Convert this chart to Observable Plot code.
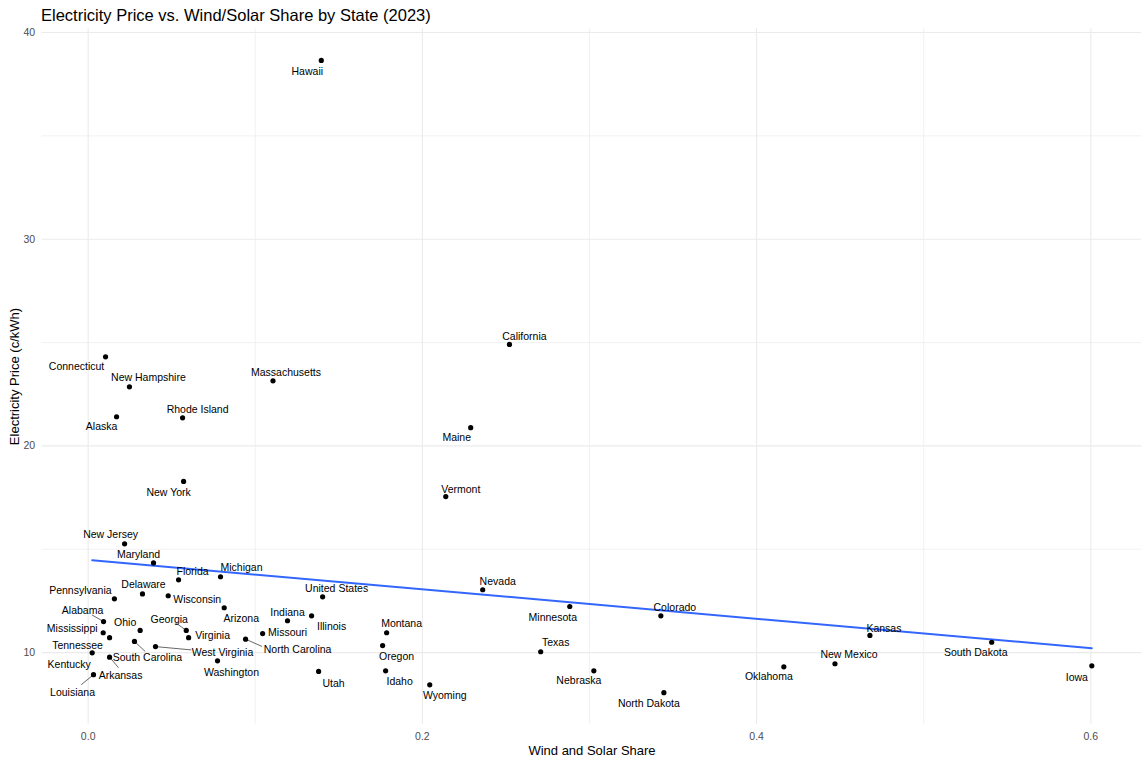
<!DOCTYPE html>
<html><head><meta charset="utf-8">
<script src="https://cdn.jsdelivr.net/npm/d3@7"></script>
<script src="https://cdn.jsdelivr.net/npm/@observablehq/plot@0.6"></script>
<style>
body{margin:0;background:#fff;font-family:"Liberation Sans",Arial,sans-serif;}
#title{height:24px;box-sizing:border-box;padding:6.7px 0 0 41px;font-size:16.5px;line-height:16.5px;color:#000;white-space:nowrap;}
#chart svg{display:block;}
</style></head><body>
<div id="title"></div>
<div id="chart"></div>
<script>
const titleText = "Electricity Price vs. Wind/Solar Share by State (2023)";
const xLabel = "Wind and Solar Share";
const yLabel = "Electricity Price (c/kWh)";

const states = ["Hawaii","California","Connecticut","Massachusetts","New Hampshire","Alaska","Rhode Island","Maine","New York","Vermont",
"New Jersey","Maryland","Michigan","Florida","Nevada","Delaware","Wisconsin","United States","Pennsylvania","Minnesota",
"Arizona","Illinois","Colorado","Indiana","Alabama","Ohio","Georgia","Mississippi","Montana","Missouri",
"Kansas","Virginia","Tennessee","North Carolina","South Carolina","South Dakota","Oregon","West Virginia","Texas","Kentucky",
"Arkansas","Washington","New Mexico","Iowa","Oklahoma","Nebraska","Idaho","Utah","Louisiana","Wyoming","North Dakota"];
const windSolarShare = [0.1395,0.2521,0.0104,0.1106,0.0247,0.0170,0.0565,0.2289,0.0571,0.2140,
0.0218,0.0391,0.0792,0.0541,0.2361,0.0325,0.0479,0.1403,0.0157,0.2882,
0.0814,0.1337,0.3427,0.1193,0.0092,0.0311,0.0587,0.0090,0.1786,0.1044,
0.4678,0.0601,0.0128,0.0942,0.0277,0.5407,0.1762,0.0403,0.2708,0.0024,
0.0128,0.0774,0.4469,0.6006,0.4163,0.3026,0.1780,0.1379,0.0032,0.2044,0.3445];
const price = [38.65,24.91,24.31,23.15,22.86,21.41,21.36,20.88,18.28,17.55,
15.26,14.34,13.67,13.52,13.04,12.84,12.75,12.70,12.60,12.23,
12.17,11.78,11.78,11.54,11.50,11.07,11.07,10.96,10.96,10.92,
10.83,10.72,10.72,10.65,10.54,10.50,10.34,10.29,10.04,9.99,
9.78,9.60,9.46,9.36,9.31,9.12,9.12,9.09,8.93,8.44,8.06];
const xTicks = [0, 0.2, 0.4, 0.6];
const xMinorTicks = [0.1, 0.3, 0.5];
const yTicks = [10, 20, 30, 40];
const yMinorTicks = [15, 25, 35];

document.getElementById("title").textContent = titleText;

// layout (pixels)
const width = 1148, height = 741, mL = 41.7, mR = 6.7, mT = 4.3, mB = 41.2;
const expand = e => { const s = (e[1] - e[0]) * 0.05; return [e[0] - s, e[1] + s]; };
const xDomain = expand(d3.extent(windSolarShare));
const yDomain = expand(d3.extent(price));
const kx = (width - mL - mR) / (xDomain[1] - xDomain[0]);
const ky = (height - mT - mB) / (yDomain[1] - yDomain[0]);

// label placement (pixel offsets from the point, repel-style)
const labelOffset = {
  "Hawaii":[-14,11],"California":[15,-8],"Connecticut":[-29,10],"Massachusetts":[13,-8],"New Hampshire":[19,-9],
  "Alaska":[-15,10],"Rhode Island":[15,-8],"Maine":[-14,10],"New York":[-15,11],"Vermont":[15,-7],
  "New Jersey":[-14,-9],"Maryland":[-15,-8],"Michigan":[21,-9],"Florida":[14,-8],"Nevada":[15,-8],
  "Delaware":[1,-9],"Wisconsin":[29,4],"United States":[14,-8],"Pennsylvania":[-34,-8],"Minnesota":[-17,11],
  "Arizona":[17,11],"Illinois":[20,11],"Colorado":[14,-8],"Indiana":[0,-8],"Alabama":[-21,-11],
  "Ohio":[-15,-8],"Georgia":[-17,-11],"Mississippi":[-31,-4],"Montana":[15,-9],"Missouri":[25,-1],
  "Kansas":[14,-7],"Virginia":[24,-2],"Tennessee":[-32,8],"North Carolina":[52,10],"South Carolina":[13,16],
  "South Dakota":[-16,10],"Oregon":[14,11],"West Virginia":[67,6],"Texas":[15,-9],"Kentucky":[-23,12],
  "Arkansas":[11,18],"Washington":[14,12],"New Mexico":[14,-9],"Iowa":[-15,12],"Oklahoma":[-15,10],
  "Nebraska":[-15,10],"Idaho":[14,11],"Utah":[15,12],"Louisiana":[-21,18],"Wyoming":[15,11],"North Dakota":[-15,11]
};
const connectorEnd = {
  "Alabama":[-11.6,-6.7],"Georgia":[-10,-7.3],"South Carolina":[10.7,10],"West Virginia":[35.7,3.3],
  "North Carolina":[16.4,7.3],"Arkansas":[9,10.6],"Louisiana":[-12.3,10]
};

const data = states.map((s, i) => ({
  state: s, x: windSolarShare[i], y: price[i],
  lx: windSolarShare[i] + labelOffset[s][0] / kx,
  ly: price[i] - labelOffset[s][1] / ky
}));
const links = data.filter(d => connectorEnd[d.state]).map(d => ({
  x1: d.x, y1: d.y,
  x2: d.x + connectorEnd[d.state][0] / kx,
  y2: d.y - connectorEnd[d.state][1] / ky
}));

const chart = Plot.plot({
  width, height,
  marginLeft: mL, marginRight: mR, marginTop: mT, marginBottom: mB,
  x: {domain: xDomain},
  y: {domain: yDomain},
  style: {fontFamily: '"Liberation Sans", Arial, sans-serif', background: "#fff", color: "#000"},
  marks: [
    Plot.gridX(xMinorTicks, {stroke: "#ededed", strokeOpacity: 1, strokeWidth: 0.8}),
    Plot.gridY(yMinorTicks, {stroke: "#ededed", strokeOpacity: 1, strokeWidth: 0.8}),
    Plot.gridX(xTicks, {stroke: "#ebebeb", strokeOpacity: 1, strokeWidth: 1.1}),
    Plot.gridY(yTicks, {stroke: "#ebebeb", strokeOpacity: 1, strokeWidth: 1.1}),
    Plot.axisX(xTicks, {tickSize: 0, tickPadding: 8.5, tickFormat: d3.format(".1f"), fontSize: 10.5, fill: "#4d4d4d", label: null}),
    Plot.axisY(yTicks, {tickSize: 0, tickPadding: 7, fontSize: 10.5, fill: "#4d4d4d", label: null}),
    Plot.linearRegressionY(data, {x: "x", y: "y", ci: 0, stroke: "#3366FF", strokeWidth: 2}),
    Plot.link(links, {x1: "x1", y1: "y1", x2: "x2", y2: "y2", stroke: "#000", strokeWidth: 0.6}),
    Plot.dot(data, {x: "x", y: "y", r: 2.6, fill: "#000"}),
    Plot.text(data, {x: "lx", y: "ly", text: "state", fontSize: 10.5, fill: "#000"}),
    Plot.text([xLabel], {frameAnchor: "bottom", textAnchor: "middle", lineAnchor: "middle", dy: 27, fontSize: 13, text: d => d, fill: "#000"}),
    Plot.text([yLabel], {frameAnchor: "left", textAnchor: "middle", lineAnchor: "middle", dx: -27.7, rotate: -90, fontSize: 13, text: d => d, fill: "#000"})
  ]
});
document.getElementById("chart").appendChild(chart);
</script>
</body></html>
